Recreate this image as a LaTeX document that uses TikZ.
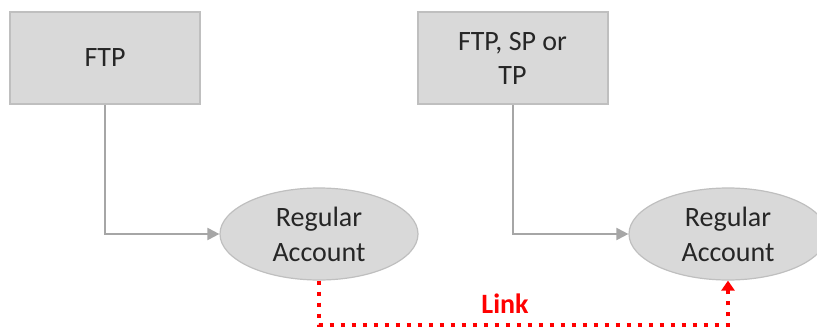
\documentclass[tikz,border=0pt]{standalone}
\usepackage{fontspec}
\setmainfont{Carlito}
\usepackage{xcolor}
\usepackage{tikz}
\usetikzlibrary{arrows.meta}
\usetikzlibrary{positioning, shapes.geometric}
\definecolor{boxfill}{HTML}{D9D9D9}
\definecolor{boxline}{HTML}{BFBFBF}
\definecolor{wire}{HTML}{A6A6A6}
\definecolor{linkred}{HTML}{FF0000}
\tikzset{
prog/.style = { rectangle, draw = boxline, line width = 1pt, fill = boxfill, minimum width = 95pt, minimum height = 46pt, align = center, text = black!85, font = \fontsize{14}{17}\selectfont },
account/.style = { ellipse, draw = boxline, line width = 0.6pt, fill = boxfill, minimum width = 99pt, minimum height = 46pt, inner sep = 0pt, align = center, text = black!85, font = \fontsize{14}{17.5}\selectfont },
feed/.style = { draw = wire, line width = 1pt, -{Triangle[length = 6pt, width = 6pt]} },
linkline/.style = { draw = linkred, line width = 2pt, dash pattern = on 2pt off 3.5pt, -{Triangle[length = 5pt, width = 6.5pt]} },
linklabel/.style = { text = linkred, font = \fontsize{14}{17}\selectfont\bfseries },
}

\begin{document}
\begin{tikzpicture}[x = 0.5pt, y = -0.5pt]
      \useasboundingbox (0, 0) rectangle (817, 331);
      % programs
      \node[prog] (ftp) at (105, 58) {FTP};
      \node[prog] (mixed) at (512.5, 58) {FTP, SP or\\TP};
      % accounts
      \node[account] (acc1) at (319, 234) {Regular\\Account};
      \node[account] (acc2) at (728, 234) {Regular\\Account};
      \draw[feed] (ftp.south) |- (acc1.west);
      \draw[feed] (mixed.south) |- (acc2.west);
      % link between the two accounts
      \coordinate (lk) at (505, 325);
      \draw[linkline] (acc1.south) |- (lk) -| (acc2.south);
      \node[linklabel] (linktxt) at (505, 304) {Link};
    \end{tikzpicture}
\end{document}
